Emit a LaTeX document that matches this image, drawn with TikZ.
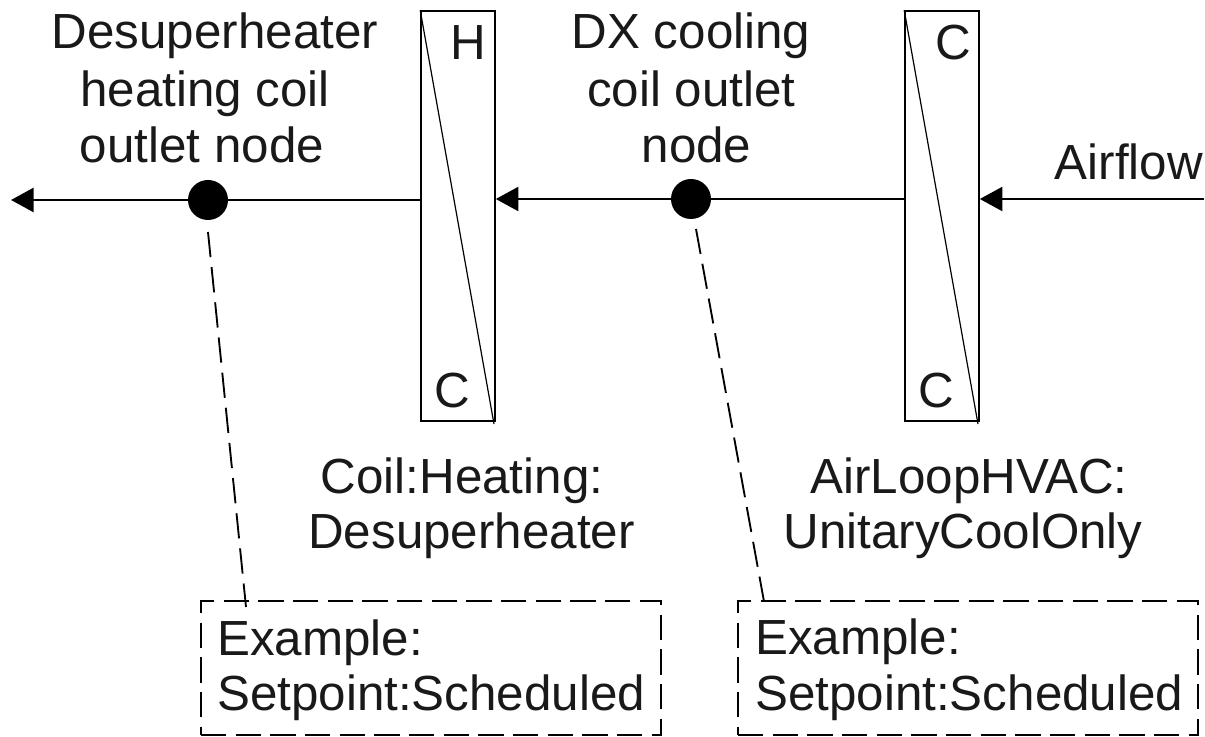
\documentclass[tikz,border=0pt]{standalone}
\usepackage{fontspec}
\setmainfont{Liberation Sans}
\usetikzlibrary{arrows.meta}
\begin{document}
\begin{tikzpicture}[x=0.75pt,y=-0.75pt,
  lbl/.style={inner sep=0pt,font=\fontsize{37}{43}\selectfont,text=black!90,anchor=base},
  lblb/.style={lbl,anchor=base west},
  coilbox/.style={draw,line width=1.2pt,minimum width=55.5pt,minimum height=307.5pt,inner sep=0pt},
  coildiag/.style={line width=0.9pt},
  blob/.style={circle,fill=black,minimum size=30pt,inner sep=0pt},
  flow/.style={line width=2pt,-{Triangle[length=17pt,width=18pt]}},
  plainflow/.style={line width=2pt},
  dashline/.style={line width=1.4pt,dash pattern=on 19pt off 7.5pt},
  dashbox/.style={draw,line width=1.5pt,dash pattern=on 19pt off 7pt,minimum width=345pt,minimum height=100pt,inner sep=0pt}]
\useasboundingbox (0,0) rectangle (1205,737);
\fill[white] (0,0) rectangle (1205,737);
% coils
\node[coilbox] (coilH) at (458,216) {};
\node[coilbox] (coilC) at (942,216) {};
\coordinate (coilHe) at (494,424);
\coordinate (coilCe) at (978,424);
\draw[coildiag] (coilH.north west) -- (coilHe);
\draw[coildiag] (coilC.north west) -- (coilCe);
% nodes
\node[blob] (n1) at (208,200) {};
\node[blob] (n2) at (691,199) {};
\coordinate (outlet) at (11,200);
\coordinate (inlet) at (1204,199);
\coordinate (n1d) at (208,232);
\coordinate (n2d) at (696,229);
% connectors
\draw[flow] (n1) -- (outlet);
\draw[plainflow] (coilH.west |- n1) -- (n1);
\draw[flow] (n2) -- (coilH.east |- n2);
\draw[plainflow] (coilC.west |- n2) -- (n2);
\draw[flow] (inlet) -- (coilC.east |- inlet);
% boxes
\node[dashbox] (ex1) at (431,668) {};
\node[dashbox] (ex2) at (968,668) {};
\coordinate (ex1t) at (246,607);
\coordinate (ex2t) at (765,607);
\draw[dashline] (n1d) -- (ex1t);
\draw[dashline] (n2d) -- (ex2t);
% labels
\node[lbl] (t1a) at (215,49) {Desuperheater};
\node[lbl] (t1b) at (205,107) {heating coil};
\node[lbl] (t1c) at (202,163) {outlet node};
\node[lbl] (t2a) at (691,49) {DX cooling};
\node[lbl] (t2b) at (691.5,107) {coil outlet};
\node[lbl] (t2c) at (696.5,163) {node};
\node[lbl,anchor=base east] (t3) at (1203,180) {Airflow};
\node[lbl] (hH) at (468,60) {H};
\node[lbl] (hC) at (452,407) {C};
\node[lbl] (cH) at (953,60) {C};
\node[lbl] (cC) at (936,407) {C};
\node[lbl] (t4a) at (462,493) {Coil:Heating:};
\node[lbl] (t4b) at (471.5,548) {Desuperheater};
\node[lbl] (t5a) at (969,493) {AirLoopHVAC:};
\node[lbl] (t5b) at (963,548) {UnitaryCoolOnly};
\node[lblb] (e1a) at (217,655) {Example:};
\node[lblb] (e1b) at (217,710) {Setpoint:Scheduled};
\node[lblb] (e2a) at (755,654) {Example:};
\node[lblb] (e2b) at (755,710) {Setpoint:Scheduled};
\end{tikzpicture}
\end{document}
